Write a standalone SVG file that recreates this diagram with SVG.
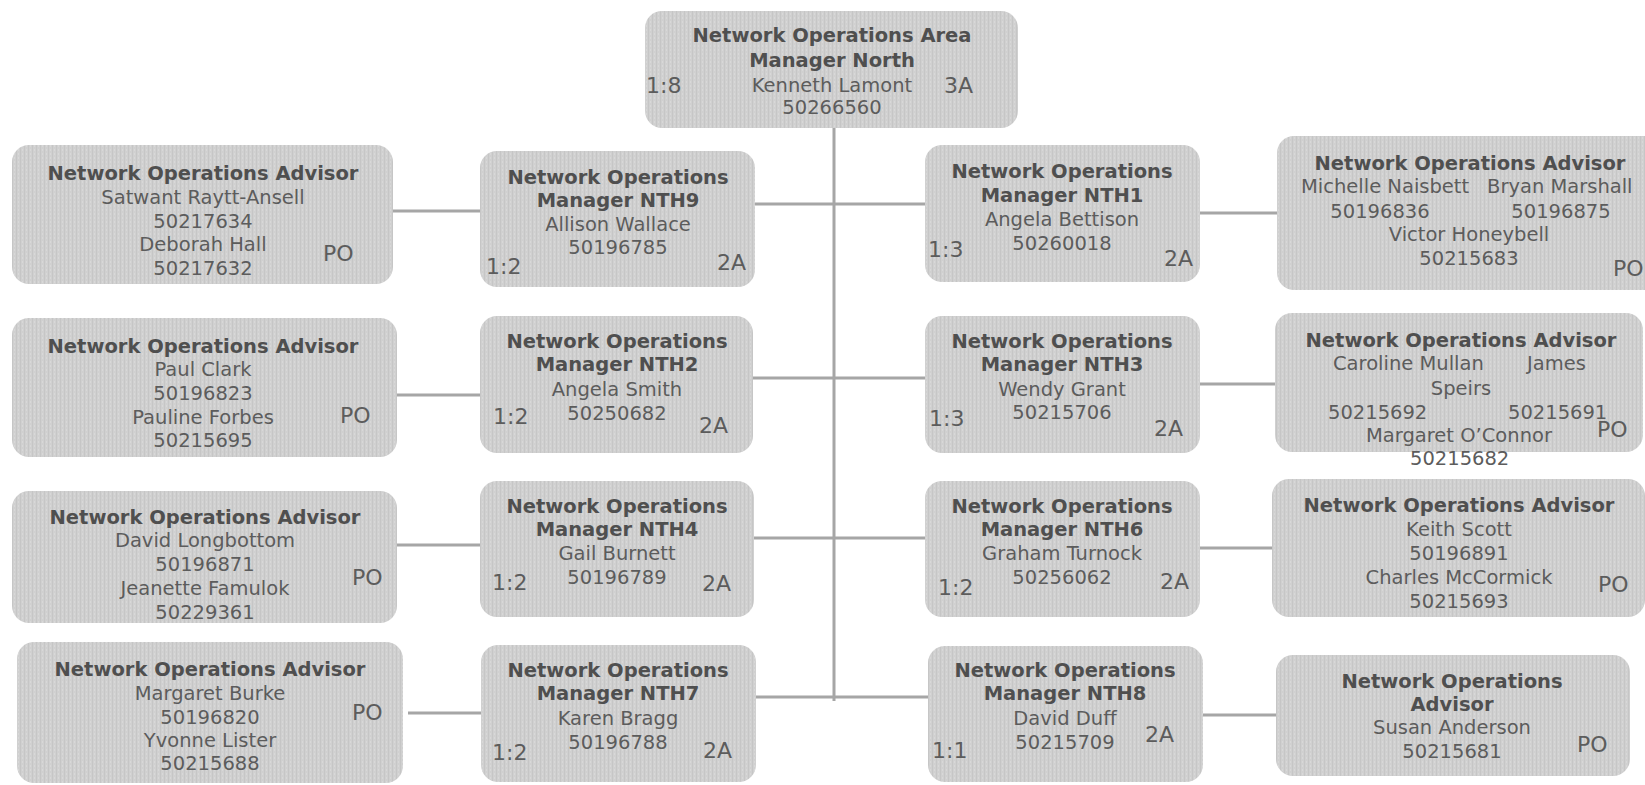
<svg xmlns="http://www.w3.org/2000/svg" width="1645" height="785" viewBox="0 0 1645 785">
<style>
.box{fill:url(#tex);}
text{font-family:"DejaVu Sans","Liberation Sans",sans-serif;}
.t{font-size:19.5px;font-weight:bold;fill:#4f4f4f;text-anchor:middle;}
.n{font-size:19.5px;fill:#5c5c5c;text-anchor:middle;}
.nl{font-size:19.5px;fill:#5c5c5c;}
.s{font-size:22px;fill:#5c5c5c;}
.c{stroke:#a6a6a6;stroke-width:3;fill:none;}
</style>
<defs>
<pattern id="tex" width="4" height="4" patternUnits="userSpaceOnUse">
<rect width="4" height="4" fill="#d0d0d0"/>
<rect x="0" y="0" width="1" height="4" fill="#c6c6c6"/>
<rect x="2" y="1" width="1" height="2" fill="#d8d8d8"/>
</pattern>
</defs>
<rect width="1645" height="785" fill="#ffffff"/>
<g id="connectors">
<line class="c" x1="834" y1="128" x2="834" y2="701"/>
<line class="c" x1="755" y1="204" x2="925" y2="204"/>
<line class="c" x1="393" y1="211" x2="480" y2="211"/>
<line class="c" x1="1200" y1="213" x2="1277" y2="213"/>
<line class="c" x1="753" y1="378" x2="925" y2="378"/>
<line class="c" x1="397" y1="395" x2="480" y2="395"/>
<line class="c" x1="1200" y1="384" x2="1275" y2="384"/>
<line class="c" x1="754" y1="538" x2="925" y2="538"/>
<line class="c" x1="397" y1="545" x2="480" y2="545"/>
<line class="c" x1="1200" y1="548" x2="1272" y2="548"/>
<line class="c" x1="756" y1="697" x2="928" y2="697"/>
<line class="c" x1="408" y1="713" x2="481" y2="713"/>
<line class="c" x1="1203" y1="715" x2="1276" y2="715"/>
</g>
<g id="area-manager">
<rect class="box" x="645" y="11" width="373" height="117" rx="17"/>
<text class="t" x="832" y="42">Network Operations Area</text>
<text class="t" x="832" y="67">Manager North</text>
<text class="n" x="832" y="92">Kenneth Lamont</text>
<text class="n" x="832" y="114">50266560</text>
<text class="s" x="646" y="93">1:8</text>
<text class="s" x="944" y="93">3A</text>
</g>
<g id="nth9">
<rect class="box" x="480" y="151" width="275" height="136" rx="17"/>
<text class="t" x="618" y="184">Network Operations</text>
<text class="t" x="618" y="207">Manager NTH9</text>
<text class="n" x="618" y="231">Allison Wallace</text>
<text class="n" x="618" y="254">50196785</text>
<text class="s" x="486" y="274">1:2</text>
<text class="s" x="717" y="270">2A</text>
</g>
<g id="nth2">
<rect class="box" x="480" y="316" width="273" height="137" rx="17"/>
<text class="t" x="617" y="348">Network Operations</text>
<text class="t" x="617" y="371">Manager NTH2</text>
<text class="n" x="617" y="396">Angela Smith</text>
<text class="n" x="617" y="420">50250682</text>
<text class="s" x="493" y="424">1:2</text>
<text class="s" x="699" y="433">2A</text>
</g>
<g id="nth4">
<rect class="box" x="480" y="481" width="274" height="136" rx="17"/>
<text class="t" x="617" y="513">Network Operations</text>
<text class="t" x="617" y="536">Manager NTH4</text>
<text class="n" x="617" y="560">Gail Burnett</text>
<text class="n" x="617" y="584">50196789</text>
<text class="s" x="492" y="590">1:2</text>
<text class="s" x="702" y="591">2A</text>
</g>
<g id="nth7">
<rect class="box" x="481" y="645" width="275" height="137" rx="17"/>
<text class="t" x="618" y="677">Network Operations</text>
<text class="t" x="618" y="700">Manager NTH7</text>
<text class="n" x="618" y="725">Karen Bragg</text>
<text class="n" x="618" y="749">50196788</text>
<text class="s" x="492" y="760">1:2</text>
<text class="s" x="703" y="758">2A</text>
</g>
<g id="nth1">
<rect class="box" x="925" y="145" width="275" height="137" rx="17"/>
<text class="t" x="1062" y="178">Network Operations</text>
<text class="t" x="1062" y="202">Manager NTH1</text>
<text class="n" x="1062" y="226">Angela Bettison</text>
<text class="n" x="1062" y="250">50260018</text>
<text class="s" x="928" y="257">1:3</text>
<text class="s" x="1164" y="266">2A</text>
</g>
<g id="nth3">
<rect class="box" x="925" y="316" width="275" height="137" rx="17"/>
<text class="t" x="1062" y="348">Network Operations</text>
<text class="t" x="1062" y="371">Manager NTH3</text>
<text class="n" x="1062" y="396">Wendy Grant</text>
<text class="n" x="1062" y="419">50215706</text>
<text class="s" x="929" y="426">1:3</text>
<text class="s" x="1154" y="436">2A</text>
</g>
<g id="nth6">
<rect class="box" x="925" y="481" width="275" height="136" rx="17"/>
<text class="t" x="1062" y="513">Network Operations</text>
<text class="t" x="1062" y="536">Manager NTH6</text>
<text class="n" x="1062" y="560">Graham Turnock</text>
<text class="n" x="1062" y="584">50256062</text>
<text class="s" x="938" y="595">1:2</text>
<text class="s" x="1160" y="589">2A</text>
</g>
<g id="nth8">
<rect class="box" x="928" y="646" width="275" height="136" rx="17"/>
<text class="t" x="1065" y="677">Network Operations</text>
<text class="t" x="1065" y="700">Manager NTH8</text>
<text class="n" x="1065" y="725">David Duff</text>
<text class="n" x="1065" y="749">50215709</text>
<text class="s" x="932" y="758">1:1</text>
<text class="s" x="1145" y="742">2A</text>
</g>
<g id="advisor-nth9">
<rect class="box" x="12" y="145" width="381" height="139" rx="17"/>
<text class="t" x="203" y="180">Network Operations Advisor</text>
<text class="n" x="203" y="204">Satwant Raytt-Ansell</text>
<text class="n" x="203" y="228">50217634</text>
<text class="n" x="203" y="251">Deborah Hall</text>
<text class="n" x="203" y="275">50217632</text>
<text class="s" x="323" y="261">PO</text>
</g>
<g id="advisor-nth2">
<rect class="box" x="12" y="318" width="385" height="139" rx="17"/>
<text class="t" x="203" y="353">Network Operations Advisor</text>
<text class="n" x="203" y="376">Paul Clark</text>
<text class="n" x="203" y="400">50196823</text>
<text class="n" x="203" y="424">Pauline Forbes</text>
<text class="n" x="203" y="447">50215695</text>
<text class="s" x="340" y="423">PO</text>
</g>
<g id="advisor-nth4">
<rect class="box" x="12" y="491" width="385" height="132" rx="17"/>
<text class="t" x="205" y="524">Network Operations Advisor</text>
<text class="n" x="205" y="547">David Longbottom</text>
<text class="n" x="205" y="571">50196871</text>
<text class="n" x="205" y="595">Jeanette Famulok</text>
<text class="n" x="205" y="619">50229361</text>
<text class="s" x="352" y="585">PO</text>
</g>
<g id="advisor-nth7">
<rect class="box" x="17" y="642" width="386" height="141" rx="17"/>
<text class="t" x="210" y="676">Network Operations Advisor</text>
<text class="n" x="210" y="700">Margaret Burke</text>
<text class="n" x="210" y="724">50196820</text>
<text class="n" x="210" y="747">Yvonne Lister</text>
<text class="n" x="210" y="770">50215688</text>
<text class="s" x="352" y="720">PO</text>
</g>
<g id="advisor-nth1">
<rect class="box" x="1277" y="136" width="385" height="154" rx="17"/>
<text class="t" x="1470" y="170">Network Operations Advisor</text>
<text class="nl" x="1301" y="193">Michelle Naisbett</text>
<text class="nl" x="1487" y="193">Bryan Marshall</text>
<text class="n" x="1380" y="218">50196836</text>
<text class="n" x="1561" y="218">50196875</text>
<text class="n" x="1469" y="241">Victor Honeybell</text>
<text class="n" x="1469" y="265">50215683</text>
<text class="s" x="1613" y="276">PO</text>
</g>
<g id="advisor-nth3">
<rect class="box" x="1275" y="313" width="368" height="139" rx="17"/>
<text class="t" x="1461" y="347">Network Operations Advisor</text>
<text class="nl" x="1333" y="370">Caroline Mullan</text>
<text class="nl" x="1527" y="370">James</text>
<text class="n" x="1461" y="395">Speirs</text>
<text class="nl" x="1328" y="419">50215692</text>
<text class="nl" x="1508" y="419">50215691</text>
<text class="s" x="1597" y="437">PO</text>
<text class="nl" x="1366" y="442">Margaret O’Connor</text>
<text class="nl" x="1410" y="465">50215682</text>
</g>
<g id="advisor-nth6">
<rect class="box" x="1272" y="479" width="373" height="138" rx="17"/>
<text class="t" x="1459" y="512">Network Operations Advisor</text>
<text class="n" x="1459" y="536">Keith Scott</text>
<text class="n" x="1459" y="560">50196891</text>
<text class="n" x="1459" y="584">Charles McCormick</text>
<text class="n" x="1459" y="608">50215693</text>
<text class="s" x="1598" y="592">PO</text>
</g>
<g id="advisor-nth8">
<rect class="box" x="1276" y="655" width="354" height="121" rx="17"/>
<text class="t" x="1452" y="688">Network Operations</text>
<text class="t" x="1452" y="711">Advisor</text>
<text class="n" x="1452" y="734">Susan Anderson</text>
<text class="n" x="1452" y="758">50215681</text>
<text class="s" x="1577" y="752">PO</text>
</g>
</svg>
